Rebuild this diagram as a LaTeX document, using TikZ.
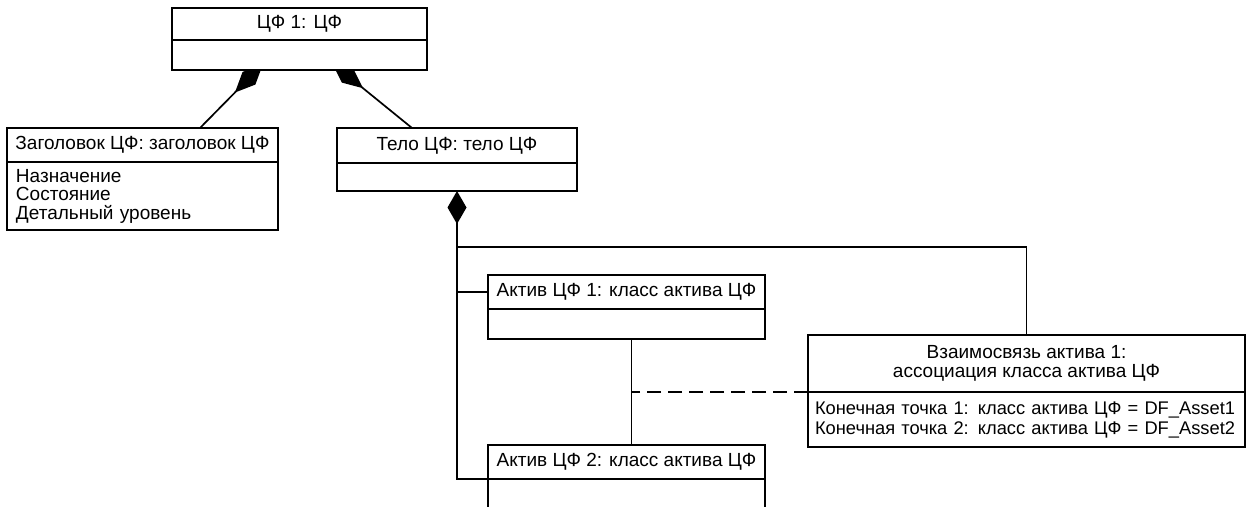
\documentclass[tikz,border=0pt]{standalone}
\usepackage{fontspec}
\setmainfont{Liberation Sans}
\usetikzlibrary{arrows.meta,calc,backgrounds}
\begin{document}
\begin{tikzpicture}[x=1pt,y=-1pt,
  box/.style={draw,line width=2.7pt,fill=white,inner sep=0pt,outer sep=0pt,anchor=north west,
    font=\fontsize{19}{18.5}\selectfont},
  small/.style={font=\fontsize{18.3}{20}\selectfont},
  conn/.style={line width=1.7pt},
  comp/.style={conn,-{Diamond[length=40pt,width=18pt]}},
  compstart/.style={conn,{Diamond[length=33pt,width=19pt]}-},
  assocline/.style={conn,dash pattern=on 14pt off 7pt}]
\useasboundingbox (0,0) rectangle (1247,506);
\clip (0,0) rectangle (1247,506);
% top box
\node[box,minimum width=255,minimum height=32] (cfT) at (172,8) {ЦФ 1: ЦФ};
\node[box,minimum width=255,minimum height=30] (cfB) at (cfT.south west) {};
% header box
\node[box,minimum width=271,minimum height=34] (hdrT) at (7,128) {Заголовок ЦФ: заголовок ЦФ};
\node[box,minimum width=271,minimum height=68,text width=253,align=left] (hdrB) at (hdrT.south west)
  {Назначение\\Состояние\\Детальный уровень};
% body box
\node[box,minimum width=240,minimum height=35] (bodyT) at (337,128) {Тело ЦФ: тело ЦФ};
\node[box,minimum width=240,minimum height=28] (bodyB) at (bodyT.south west) {};
% asset 1
\node[box,minimum width=277,minimum height=34] (a1T) at (488,275) {Актив ЦФ 1: класс актива ЦФ};
\node[box,minimum width=277,minimum height=30] (a1B) at (a1T.south west) {};
% asset 2
\node[box,minimum width=277,minimum height=34] (a2T) at (488,445) {Актив ЦФ 2: класс актива ЦФ};
\node[box,minimum width=277,minimum height=40] (a2B) at (a2T.south west) {};
% association
\node[box,minimum width=437,minimum height=57,align=center,font=\fontsize{19}{19}\selectfont] (asT) at (808,335)
  {Взаимосвязь актива 1:\\ассоциация класса актива ЦФ};
\node[box,small,minimum width=437,minimum height=55,text width=423,align=left] (asB) at (asT.south west)
  {Конечная точка 1: класс актива ЦФ = DF\_Asset1\\Конечная точка 2: класс актива ЦФ = DF\_Asset2};
% connectors
\coordinate (d1) at (263,64);
\coordinate (d2) at (332,63);
\coordinate (trunk) at (bodyB.south);
\coordinate (jtop) at (457,247);
\coordinate (mid) at ($(a1B.south)+(5,0)$);
\begin{scope}[on background layer]
\draw[comp] ($(hdrT.north west)+(193,0)$) -- (d1);
\draw[comp] ($(bodyT.north west)+(75,0)$) -- (d2);
\draw[compstart] (trunk) -- (a2B.north west -| trunk) -- (a2B.north west);
\draw[conn] (jtop) -| (asT.north);
\draw[conn] (a1T.west) -- (a1T.west -| trunk);
\draw[conn] (mid) -- (a2T.north -| mid);
\draw[assocline] (asB.north west) -- (asB.north west -| mid);
\end{scope}
\end{tikzpicture}
\end{document}
